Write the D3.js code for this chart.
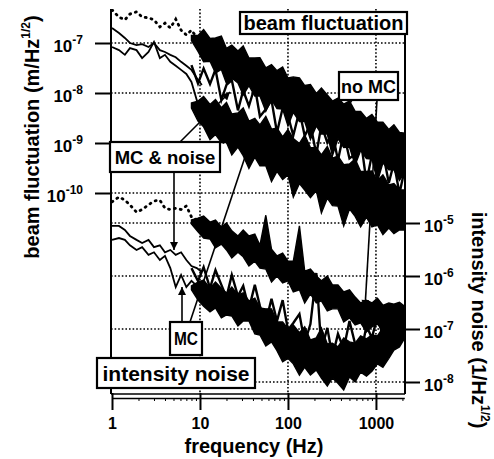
<!DOCTYPE html>
<html>
<head>
<meta charset="utf-8">
<script src="https://cdn.jsdelivr.net/npm/d3@7"></script>
<style>
  html, body { margin: 0; padding: 0; background: #fff; }
  svg { display: block; }
  text { font-family: "Liberation Sans", Arial, Helvetica, sans-serif; font-weight: bold; fill: #000; }
</style>
</head>
<body>
<svg id="chart" width="494" height="459"></svg>
<script>
// ---- data ----
// frequency grids (Hz)
const lowFreq = [1, 1.2, 1.4, 1.6, 1.9, 2.2, 2.6, 3, 3.5, 4, 4.6, 5.3, 6.1, 7, 8, 9.2, 10.5];
const highFreq = [8, 9.5, 11, 13, 15, 17.5, 20, 23, 27, 31, 36, 42, 48, 56, 65, 75, 87, 100, 115, 135,
  155, 180, 210, 240, 280, 320, 370, 430, 500, 580, 670, 780, 900, 1040, 1200, 1400, 1600, 1850, 2100];

// tick values
const freqTicks = [1, 10, 100, 1000];
const beamTicks = [1e-7, 1e-8, 1e-9, 1e-10];
const intensityTicks = [1e-5, 1e-6, 1e-7, 1e-8];

// beam fluctuation (m/Hz^1/2), low frequency part
const beamNoMcLow = [4.6e-7, 3.3e-7, 2.9e-7, 3.8e-7, 4.2e-7, 3.3e-7, 3.2e-7, 2.9e-7, 2.1e-7, 2.5e-7, 2.0e-7, 3.0e-7, 1.8e-7, 1.45e-7, 1.8e-7, 1.3e-7, 1.15e-7];
const beamMcNoiseLow = [2.0e-7, 1.58e-7, 1.26e-7, 1.0e-7, 9.1e-8, 9.5e-8, 8.3e-8, 1.0e-7, 7.2e-8, 6.6e-8, 5.8e-8, 5.2e-8, 4.2e-8, 3.5e-8, 2.9e-8, 2.0e-8, 1.45e-8];
const beamMcLow = [8.3e-8, 7.2e-8, 5.8e-8, 7.9e-8, 7.2e-8, 5.0e-8, 6.6e-8, 1.05e-7, 5.0e-8, 5.8e-8, 4.2e-8, 3.5e-8, 2.9e-8, 2.4e-8, 1.66e-8, 7.2e-9, 4.2e-9];

// beam fluctuation, high frequency part (upper / lower edge of the noisy trace)
const beamNoMcHi = [1.41e-7, 1.41e-7, 1.86e-7, 1.23e-7, 1.26e-7, 1.38e-7, 7.8e-8, 9.1e-8, 6.9e-8, 8.7e-8, 5.0e-8, 5.0e-8, 5.1e-8, 3.2e-8, 3.7e-8, 2.8e-8, 3.3e-8, 2.0e-8, 2.1e-8, 2.0e-8,
  1.41e-8, 1.48e-8, 9.8e-9, 1.26e-8, 9.1e-9, 6.9e-9, 7.9e-9, 6.0e-9, 6.9e-9, 4.3e-9, 4.3e-9, 3.1e-9, 3.7e-9, 2.6e-9, 2.6e-9, 1.86e-9, 2.3e-9, 1.62e-9, 1.58e-9];
const beamNoMcLo = [1.12e-7, 6.8e-8, 4.2e-8, 4.3e-8, 2.5e-8, 2.95e-8, 1.55e-8, 2.0e-8, 1.58e-8, 9.1e-9, 1.41e-8, 8.7e-9, 8.7e-9, 4.3e-9, 7.4e-9, 4.9e-9, 4.8e-9, 2.2e-9, 4.1e-9, 2.7e-9,
  2.7e-9, 1.17e-9, 2.2e-9, 1.51e-9, 1.51e-9, 5.5e-10, 1.23e-9, 8.1e-10, 8.3e-10, 3.6e-10, 7.1e-10, 4.9e-10, 4.8e-10, 1.7e-10, 4.0e-10, 2.9e-10, 2.9e-10, 1.78e-10, 2.5e-10];
const beamMcNoiseHigh = [3.6e-8, 1.55e-8, 3.1e-8, 1.51e-8, 2.95e-8, 7.2e-9, 1.45e-8, 1.82e-8, 4.5e-9, 1.12e-8, 5.5e-9, 1.35e-8, 3.4e-9, 4.7e-9, 7.2e-9, 1.62e-9, 5.0e-9, 3.5e-9, 1.41e-9, 4.4e-9,
  1.38e-9, 2.4e-9, 5.9e-10, 2.3e-9, 1.02e-9, 1.62e-9, 4.5e-10, 1.58e-9, 4.9e-10, 6.0e-10, 1.2e-9, 1.66e-10, 5.9e-10, 2.6e-10, 6.5e-10, 1.58e-10, 4.0e-10, 9.8e-11, 2.75e-10];
const beamMcHi = [6.3e-9, 6.9e-9, 8.5e-9, 5.9e-9, 7.4e-9, 5.1e-9, 6.5e-9, 3.8e-9, 4.0e-9, 5.0e-9, 2.75e-9, 3.1e-9, 2.3e-9, 3.4e-9, 1.9e-9, 2.0e-9, 1.32e-9, 1.86e-9, 1.23e-9, 9.8e-10,
  1.45e-9, 8.1e-10, 8.1e-10, 5.8e-10, 8.5e-10, 5.0e-10, 5.5e-10, 3.7e-10, 3.8e-10, 4.8e-10, 2.7e-10, 2.7e-10, 2.75e-10, 1.78e-10, 2.3e-10, 1.45e-10, 1.55e-10, 1.15e-10, 1.15e-10];
const beamMcLo = [5.0e-9, 2.75e-9, 2.1e-9, 1.17e-9, 1.48e-9, 1.02e-9, 1.02e-9, 5.8e-10, 8.3e-10, 5.6e-10, 3.1e-10, 5.2e-10, 3.5e-10, 3.5e-10, 1.7e-10, 2.7e-10, 1.86e-10, 2.3e-10, 8.3e-11, 1.55e-10,
  1.15e-10, 8.1e-11, 1.12e-10, 4.0e-11, 7.9e-11, 5.6e-11, 5.5e-11, 2.2e-11, 4.8e-11, 3.4e-11, 2.1e-11, 3.3e-11, 2.1e-11, 2.3e-11, 1.48e-11, 2.0e-11, 1.55e-11, 1.82e-11, 1.82e-11];

// intensity noise (1/Hz^1/2), low frequency part
const intNoMcLow = [2.5e-5, 3.1e-5, 2.7e-5, 2.2e-5, 1.6e-5, 1.8e-5, 2.2e-5, 2.6e-5, 2.7e-5, 1.9e-5, 1.8e-5, 1.9e-5, 1.8e-5, 2.1e-5, 1.3e-5, 1.15e-5, 1.04e-5];
const intMcNoiseLow = [8.8e-6, 8.8e-6, 7.4e-6, 5.7e-6, 4.8e-6, 4.2e-6, 4.8e-6, 3.5e-6, 3.8e-6, 2.8e-6, 3.1e-6, 2.5e-6, 2.8e-6, 2.0e-6, 1.54e-6, 1.41e-6, 1.19e-6];
const intMcLow = [4.8e-6, 5.2e-6, 4.8e-6, 3.8e-6, 3.1e-6, 3.5e-6, 2.5e-6, 2.8e-6, 2.0e-6, 2.4e-6, 1.41e-6, 6.2e-7, 1.05e-6, 6.2e-7, 8.1e-7, 6.5e-7, 5.5e-7];

// intensity noise, high frequency part
const intNoMcHi = [1.14e-5, 1.24e-5, 1.35e-5, 1.04e-5, 1.14e-5, 8.4e-6, 1.0e-5, 7.1e-6, 5.7e-6, 7.4e-6, 5.7e-6, 6.2e-6, 3.8e-6, 1.4e-5, 3.2e-6, 2.4e-6, 2.7e-6, 1.9e-6, 1.9e-6, 8.8e-6,
  1.24e-6, 1.35e-6, 1.0e-6, 8.1e-7, 1.0e-6, 6.8e-7, 6.8e-7, 5.0e-7, 5.5e-7, 4.0e-7, 3.1e-7, 3.5e-7, 3.1e-7, 3.8e-7, 2.8e-7, 3.1e-7, 2.95e-7, 3.2e-7, 2.7e-7];
const intNoMcLo = [9.6e-6, 6.8e-6, 5.2e-6, 5.0e-6, 3.4e-6, 4.0e-6, 3.1e-6, 2.2e-6, 2.8e-6, 2.3e-6, 1.54e-6, 1.9e-6, 1.41e-6, 1.35e-6, 7.7e-7, 1.0e-6, 7.4e-7, 8.1e-7, 5.0e-7, 5.5e-7,
  3.1e-7, 4.6e-7, 3.1e-7, 3.4e-7, 2.2e-7, 2.4e-7, 2.4e-7, 1.36e-7, 1.62e-7, 1.19e-7, 1.3e-7, 8.8e-8, 1.1e-7, 1.24e-7, 9.2e-8, 1.05e-7, 9.6e-8, 1.1e-7, 1.0e-7];
const intMcNoiseHigh = [1.41e-6, 8.0e-7, 1.47e-6, 5.9e-7, 1.29e-6, 6.8e-7, 4.0e-7, 1.05e-6, 4.2e-7, 6.5e-7, 2.4e-7, 6.8e-7, 2.7e-7, 1.36e-7, 3.7e-7, 1.42e-7, 3.5e-7, 9.6e-8, 1.3e-7, 1.92e-7,
  5.5e-8, 1.24e-7, 1.14e-6, 4.0e-8, 1.05e-7, 3.0e-8, 8.1e-8, 4.2e-8, 1.42e-7, 5.2e-8, 3.2e-8, 1.14e-7, 6.8e-8, 1.76e-7, 7.1e-8, 6.2e-8, 2.0e-7, 1.24e-7, 2.8e-7];
const intMcHi = [6.5e-7, 7.7e-7, 8.4e-7, 5.9e-7, 7.7e-7, 5.9e-7, 4.8e-7, 6.2e-7, 4.4e-7, 4.8e-7, 3.4e-7, 3.8e-7, 2.5e-7, 2.4e-7, 2.4e-7, 1.36e-7, 1.36e-7, 1.0e-7, 1.19e-7, 8.5e-8,
  1.1e-7, 6.2e-8, 6.8e-8, 1.05e-7, 5.2e-8, 5.4e-8, 4.6e-8, 6.8e-8, 5.7e-8, 5.4e-8, 7.4e-8, 6.5e-8, 7.7e-8, 7.4e-8, 1.05e-7, 1.14e-7, 1.42e-7, 1.55e-7, 2.0e-7];
const intMcLo = [5.5e-7, 3.5e-7, 2.7e-7, 2.1e-7, 2.5e-7, 1.62e-7, 1.84e-7, 1.76e-7, 1.14e-7, 1.42e-7, 1.42e-7, 8.1e-8, 7.7e-8, 4.8e-8, 5.7e-8, 3.9e-8, 2.4e-8, 2.8e-8, 2.2e-8, 1.35e-8,
  1.9e-8, 1.35e-8, 1.68e-8, 1.19e-8, 8.4e-9, 1.19e-8, 9.5e-9, 7.1e-9, 1.24e-8, 1.0e-8, 1.54e-8, 1.29e-8, 1.6e-8, 2.2e-8, 1.9e-8, 2.8e-8, 4.0e-8, 4.6e-8, 6.5e-8];

// ---- layout ----
const plot = { left: 111, right: 405, top: 9, bottom: 394 };

const svg = d3.select("#chart");

const x = d3.scaleLog().domain([1, 2100]).range([112, 404.3]);
const yBeam = d3.scaleLog().domain([1e-7, 1e-10]).range([43, 193]);
const yInt = d3.scaleLog().domain([1e-5, 1e-8]).range([223, 382]);

const defs = svg.append("defs");
// arrow head
defs.append("marker")
  .attr("id", "arrow")
  .attr("viewBox", "0 0 10 10")
  .attr("refX", 10).attr("refY", 5)
  .attr("markerUnits", "userSpaceOnUse")
  .attr("markerWidth", 9).attr("markerHeight", 8)
  .attr("orient", "auto")
  .append("path").attr("d", "M0,0 L10,5 L0,10 z").attr("fill", "#000");

defs.append("clipPath").attr("id", "clip")
  .append("rect")
  .attr("x", plot.left).attr("y", plot.top)
  .attr("width", plot.right - plot.left).attr("height", plot.bottom - plot.top);

// gridlines (dotted)
const grid = svg.append("g")
  .attr("stroke", "#000").attr("stroke-width", 1.6).attr("stroke-dasharray", "1.6,2");
beamTicks.forEach(t => grid.append("line")
  .attr("x1", plot.left).attr("x2", plot.right).attr("y1", yBeam(t)).attr("y2", yBeam(t)));
intensityTicks.forEach(t => grid.append("line")
  .attr("x1", plot.left).attr("x2", plot.right).attr("y1", yInt(t)).attr("y2", yInt(t)));
freqTicks.slice(1).forEach(t => grid.append("line")
  .attr("x1", x(t)).attr("x2", x(t)).attr("y1", plot.top).attr("y2", plot.bottom));

// ---- curves ----
const curves = svg.append("g").attr("clip-path", "url(#clip)");

function drawLow(values, yScale, dotted) {
  const line = d3.line().x((d, i) => x(lowFreq[i])).y(d => yScale(d));
  curves.append("path")
    .attr("d", line(values))
    .attr("fill", "none")
    .attr("stroke", "#000")
    .attr("stroke-width", dotted ? 2.8 : 1.8)
    .attr("stroke-linecap", dotted ? "round" : "butt")
    .attr("stroke-dasharray", dotted ? "1,5" : null);
}

function drawBand(hi, lo, yScale) {
  const area = d3.area()
    .x((d, i) => x(highFreq[i]))
    .y0((d, i) => yScale(lo[i]))
    .y1(d => yScale(d));
  curves.append("path")
    .attr("d", area(hi))
    .attr("fill", "#000")
    .attr("stroke", "#000")
    .attr("stroke-width", 1.4);
}

function drawNoisy(values, yScale) {
  const line = d3.line().x((d, i) => x(highFreq[i])).y(d => yScale(d));
  curves.append("path")
    .attr("d", line(values))
    .attr("fill", "none")
    .attr("stroke", "#000")
    .attr("stroke-width", 2.4);
}

// beam fluctuation
drawLow(beamNoMcLow, yBeam, true);
drawLow(beamMcNoiseLow, yBeam, false);
drawLow(beamMcLow, yBeam, false);
drawBand(beamNoMcHi, beamNoMcLo, yBeam);
drawNoisy(beamMcNoiseHigh, yBeam);
drawBand(beamMcHi, beamMcLo, yBeam);

// intensity noise
drawLow(intNoMcLow, yInt, true);
drawLow(intMcNoiseLow, yInt, false);
drawLow(intMcLow, yInt, false);
drawBand(intNoMcHi, intNoMcLo, yInt);
drawNoisy(intMcNoiseHigh, yInt);
drawBand(intMcHi, intMcLo, yInt);

// ---- frame and axes ----
const frame = svg.append("g").attr("stroke", "#000");
frame.append("line").attr("x1", plot.left).attr("x2", plot.left)
  .attr("y1", plot.top).attr("y2", plot.bottom).attr("stroke-width", 2);
frame.append("line").attr("x1", plot.right).attr("x2", plot.right)
  .attr("y1", 12).attr("y2", plot.bottom).attr("stroke-width", 2);
frame.append("line").attr("x1", plot.left).attr("x2", plot.right)
  .attr("y1", plot.bottom).attr("y2", plot.bottom).attr("stroke-width", 1.6);

function powerLabel(g, value, anchor, xPos, yPos) {
  const exp = Math.round(Math.log10(value));
  const t = g.append("text")
    .attr("x", xPos).attr("y", yPos)
    .attr("text-anchor", anchor)
    .style("font-size", "17px");
  t.append("tspan").text("10");
  t.append("tspan").attr("dy", -8).style("font-size", "12px").text("-" + Math.abs(exp));
}

const leftAxis = svg.append("g")
  .attr("transform", `translate(${plot.left},0)`)
  .call(d3.axisLeft(yBeam).tickValues(beamTicks).tickSize(16).tickSizeOuter(0).tickFormat(""));
leftAxis.select(".domain").remove();
leftAxis.selectAll(".tick line").attr("stroke-width", 2);

const rightAxis = svg.append("g")
  .attr("transform", `translate(${plot.right},0)`)
  .call(d3.axisRight(yInt).tickValues(intensityTicks).tickSize(15).tickSizeOuter(0).tickFormat(""));
rightAxis.select(".domain").remove();
rightAxis.selectAll(".tick line").attr("stroke-width", 2);

const labels = svg.append("g");
beamTicks.forEach(t => powerLabel(labels, t, "end", 83, yBeam(t) + 9));
intensityTicks.forEach(t => powerLabel(labels, t, "start", 424, yInt(t) + 9));

// frequency axis
const minorTicks = [];
[1, 10, 100, 1000].forEach(d => [2, 3, 4, 5, 6, 7, 8, 9].forEach(m => { if (d * m < 2100) minorTicks.push(d * m); }));

svg.append("g")
  .attr("transform", "translate(0,398)")
  .call(d3.axisBottom(x).tickValues(minorTicks).tickSize(3).tickSizeOuter(0).tickFormat(""))
  .call(g => g.select(".domain").attr("stroke-width", 1.5))
  .call(g => g.selectAll(".tick line").attr("stroke-width", 1));

const bottomAxis = svg.append("g")
  .attr("transform", "translate(0,398)")
  .call(d3.axisBottom(x).tickValues(freqTicks).tickSize(12).tickSizeOuter(0).tickPadding(8).tickFormat(d3.format("d")));
bottomAxis.select(".domain").remove();
bottomAxis.selectAll(".tick line").attr("y1", -5).attr("stroke-width", 2);
bottomAxis.selectAll(".tick text")
  .style("font-size", "16px")
  .style("font-family", "'Liberation Sans', Arial, sans-serif")
  .style("font-weight", "bold");

// axis titles
svg.append("text")
  .attr("x", 254).attr("y", 453)
  .attr("text-anchor", "middle")
  .style("font-size", "20px")
  .text("frequency (Hz)");

function rotatedTitle(label, tx, ty, angle) {
  const t = svg.append("text")
    .attr("transform", `translate(${tx},${ty}) rotate(${angle})`)
    .attr("text-anchor", "middle")
    .style("font-size", "20px");
  t.append("tspan").text(label);
  t.append("tspan").attr("dy", -9).style("font-size", "12px").text("1/2");
  t.append("tspan").attr("dy", 9).text(")");
}
rotatedTitle("beam fluctuation (m/Hz", 39, 137, -90);
rotatedTitle("intensity noise (1/Hz", 472, 320, 90);

// ---- arrows ----
const arrows = [
  [180, 142, 230, 92],
  [174, 172, 174, 250],
  [182, 322, 182, 287],
  [190, 322, 248, 148],
  [352, 100, 337, 123],
  [377, 100, 365, 308]
];
svg.append("g").selectAll("line").data(arrows).join("line")
  .attr("x1", d => d[0]).attr("y1", d => d[1])
  .attr("x2", d => d[2]).attr("y2", d => d[3])
  .attr("stroke", "#000").attr("stroke-width", 1.6)
  .attr("marker-end", "url(#arrow)");

// ---- label boxes ----
function box(x0, y0, x1, y1, label, size, baseline, fitWidth) {
  const g = svg.append("g");
  g.append("rect")
    .attr("x", x0).attr("y", y0)
    .attr("width", x1 - x0).attr("height", y1 - y0)
    .attr("fill", "#fff").attr("stroke", "#000").attr("stroke-width", 2.2);
  const t = g.append("text")
    .attr("x", (x0 + x1) / 2).attr("y", baseline)
    .attr("text-anchor", "middle")
    .style("font-size", size + "px")
    .text(label);
  if (fitWidth) t.attr("textLength", fitWidth).attr("lengthAdjust", "spacingAndGlyphs");
}
box(240, 12, 407, 34, "beam fluctuation", 20, 30);
box(339, 72, 398, 100, "no MC", 18, 93);
box(110, 142, 220, 172, "MC & noise", 18.5, 164);
box(170, 322, 202, 355, "MC", 18, 345, 24);
box(97, 358, 255, 388, "intensity noise", 21, 381);
</script>
</body>
</html>
